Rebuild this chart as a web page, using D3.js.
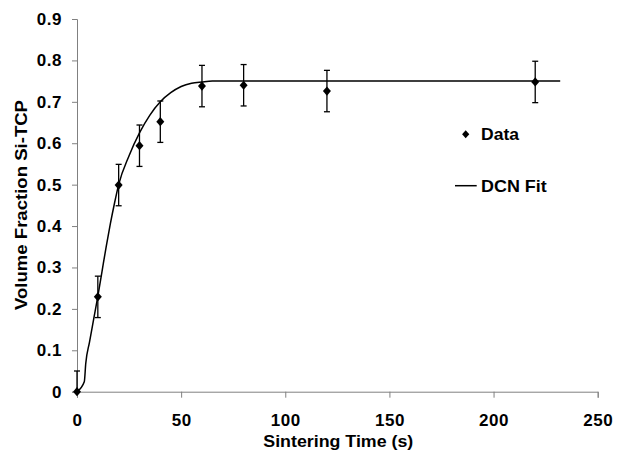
<!DOCTYPE html>
<html>
<head>
<meta charset="utf-8">
<script src="https://cdn.jsdelivr.net/npm/d3@7"></script>
<style>
  body { margin: 0; background: #fff; }
  svg { display: block; }
  text { font-family: "Liberation Sans", Arial, sans-serif; font-weight: bold; fill: #000; }
</style>
</head>
<body>
<svg id="chart" width="624" height="454"></svg>
<script>
// Data
const dataTimes = [0, 10, 20, 30, 40, 60, 80, 120, 220];
const dataValues = [0, 0.229, 0.499, 0.594, 0.652, 0.738, 0.740, 0.726, 0.748];
const dataErrors = [0.05, 0.05, 0.05, 0.05, 0.05, 0.05, 0.05, 0.05, 0.05];

const fitTimes = [0, 3.5, 4.2, 6, 8, 10, 12, 14, 16, 18, 20, 25, 30, 35, 40, 45, 50, 55, 60, 65, 70, 80, 100, 150, 232];
const fitValues = [0, 0.024, 0.068, 0.12, 0.175, 0.23, 0.29, 0.35, 0.405, 0.455, 0.5, 0.57, 0.625, 0.668, 0.70, 0.722, 0.737, 0.745, 0.748, 0.75, 0.75, 0.75, 0.75, 0.75, 0.75];

const xTicks = [0, 50, 100, 150, 200, 250];
const yTicks = [0, 0.1, 0.2, 0.3, 0.4, 0.5, 0.6, 0.7, 0.8, 0.9];

const xTitle = "Sintering Time (s)";
const yTitle = "Volume Fraction Si-TCP";
const legendLabels = ["Data", "DCN Fit"];

const svg = d3.select("#chart");
const x = d3.scaleLinear().domain([0, 250]).range([77, 597.7]);
const y = d3.scaleLinear().domain([0, 0.9]).range([391.7, 19]);
const axisColor = "#808080";

// Y axis
const yAxis = svg.append("g")
  .attr("transform", `translate(${x(0)},0)`)
  .call(d3.axisLeft(y).tickValues(yTicks).tickSize(5).tickPadding(10)
    .tickFormat(d => d === 0 ? "0" : d.toFixed(1)));
yAxis.select(".domain").attr("stroke", axisColor);
yAxis.selectAll(".tick line").attr("stroke", axisColor);
yAxis.selectAll(".tick text").attr("font-size", 17).attr("letter-spacing", 0.5)
  .style("font-family", '"Liberation Sans", Arial, sans-serif').style("font-weight", "bold").attr("fill", "#000");

// X axis
const xAxis = svg.append("g")
  .attr("transform", `translate(0,${y(0)})`)
  .call(d3.axisBottom(x).tickValues(xTicks).tickSize(6).tickPadding(16).tickFormat(d3.format("d")));
xAxis.select(".domain").attr("stroke", axisColor);
xAxis.selectAll(".tick line").attr("stroke", axisColor);
xAxis.selectAll(".tick text").attr("font-size", 17).attr("letter-spacing", 0.5)
  .style("font-family", '"Liberation Sans", Arial, sans-serif').style("font-weight", "bold").attr("fill", "#000");

// Titles
svg.append("text").attr("x", 338.3).attr("y", 447).attr("text-anchor", "middle")
  .attr("font-size", 16.5).attr("textLength", 150).attr("lengthAdjust", "spacingAndGlyphs").text(xTitle);
svg.append("text").attr("transform", "translate(27,205) rotate(-90)").attr("text-anchor", "middle")
  .attr("font-size", 16.5).attr("textLength", 210).attr("lengthAdjust", "spacingAndGlyphs").text(yTitle);

// Fit curve
const fitPts = fitTimes.map((t, i) => [t, fitValues[i]]);
svg.append("path").datum(fitPts)
  .attr("fill", "none").attr("stroke", "#000").attr("stroke-width", 1.5)
  .attr("d", d3.line().x(d => x(d[0])).y(d => y(d[1])).curve(d3.curveMonotoneX));

// Error bars
const pts = dataTimes.map((t, i) => ({ t, v: dataValues[i], e: dataErrors[i] }));
const eb = svg.append("g").attr("stroke", "#000").attr("stroke-width", 1.3);
pts.forEach(p => {
  const lo = Math.max(0, p.v - p.e);
  eb.append("line").attr("x1", x(p.t)).attr("x2", x(p.t)).attr("y1", y(p.v + p.e)).attr("y2", y(lo));
  eb.append("line").attr("x1", x(p.t) - 3).attr("x2", x(p.t) + 3).attr("y1", y(p.v + p.e)).attr("y2", y(p.v + p.e));
  if (p.v - p.e >= 0) {
    eb.append("line").attr("x1", x(p.t) - 3).attr("x2", x(p.t) + 3).attr("y1", y(p.v - p.e)).attr("y2", y(p.v - p.e));
  }
});

// Diamonds
const diamond = "M0,-4.6L4,0L0,4.6L-4,0Z";
svg.append("g").selectAll("path").data(pts).join("path")
  .attr("d", diamond).attr("fill", "#000")
  .attr("transform", d => `translate(${x(d.t)},${y(d.v)})`);

// Legend
svg.append("path").attr("d", "M0,-4L3.6,0L0,4L-3.6,0Z").attr("fill", "#000")
  .attr("transform", "translate(465.7,134.3)");
svg.append("text").attr("x", 481).attr("y", 140).attr("font-size", 16.5)
  .attr("textLength", 38).attr("lengthAdjust", "spacingAndGlyphs").text(legendLabels[0]);
svg.append("line").attr("x1", 455).attr("x2", 476.7).attr("y1", 185.7).attr("y2", 185.7)
  .attr("stroke", "#000").attr("stroke-width", 1.5);
svg.append("text").attr("x", 481).attr("y", 191.7).attr("font-size", 16.5)
  .attr("textLength", 65.7).attr("lengthAdjust", "spacingAndGlyphs").text(legendLabels[1]);
</script>
</body>
</html>
